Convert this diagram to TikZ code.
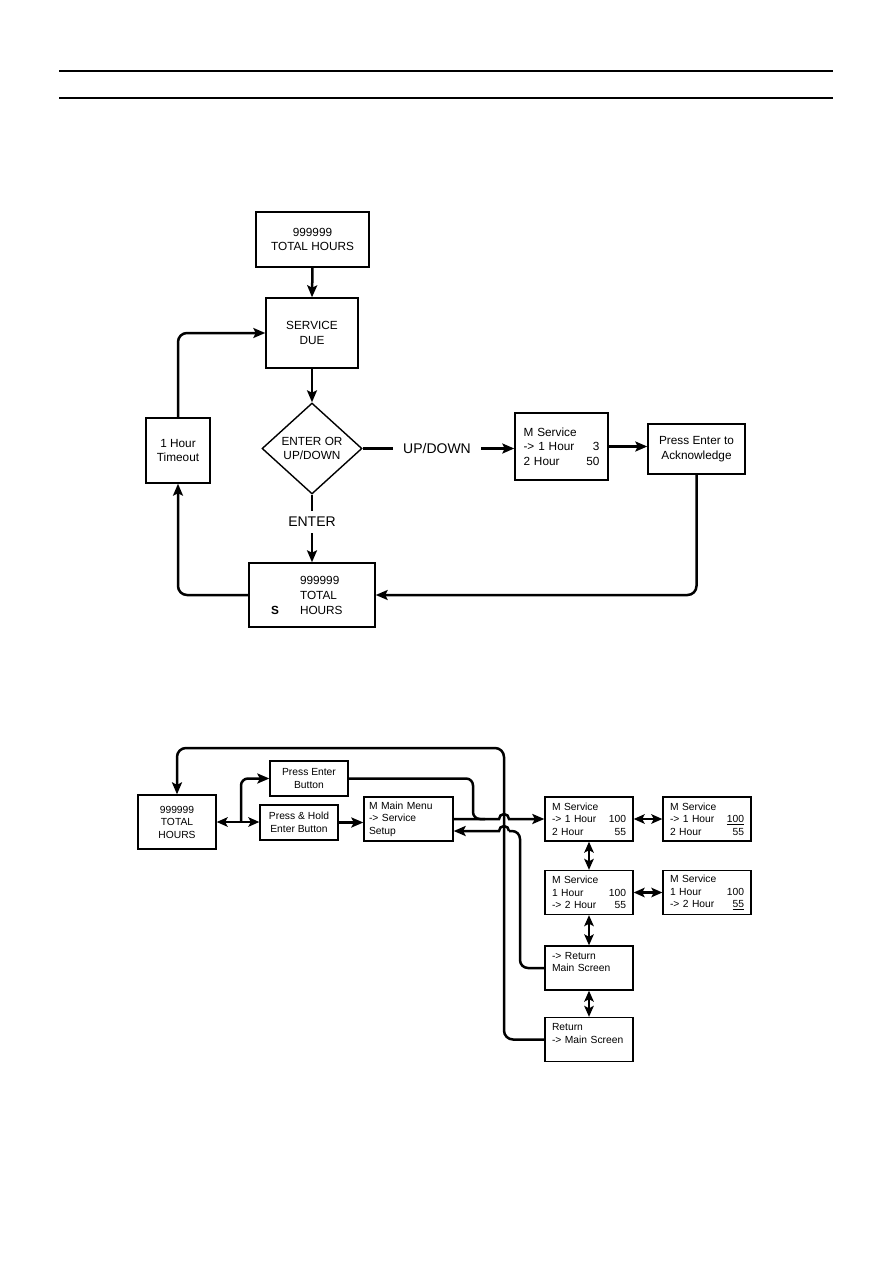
\documentclass[tikz,border=0pt]{standalone}
\usepackage{fontspec}
\setmainfont{Liberation Sans}
\usetikzlibrary{arrows.meta, shapes.geometric, positioning}

% one display row: text left, value right
\newcommand\lcdrow[3][74pt]{\makebox[#1]{#2\hfill#3}}

\begin{document}
\begin{tikzpicture}[x=1pt, y=-1pt,
	box/.style={draw, line width=1.4pt, inner sep=4pt, align=center,
		font=\fontsize{11.8}{14.5}\selectfont},
	sbox/.style={draw, line width=1.3pt, inner sep=4pt, align=center,
		font=\fontsize{10.3}{12.5}\selectfont},
	lcd/.style={sbox, align=left, text width=74pt, minimum width=88pt, minimum height=44pt},
	lbl/.style={font=\fontsize{14}{16}\selectfont, inner xsep=10pt, inner ysep=6pt},
	wire/.style={line width=2.5pt},
	flow/.style={wire, -{Stealth[length=12pt, width=10pt, inset=2.5pt]}},
	twoway/.style={wire, {Stealth[length=11pt, width=9.5pt, inset=2.5pt]}-{Stealth[length=11pt, width=9.5pt, inset=2.5pt]}}]

	\fill[white] (0,0) rectangle (893,1263);
	\useasboundingbox (0,0) rectangle (893,1263);

	% header rules
	\draw[line width=1.3pt] (59,71) -- (833,71);
	\draw[line width=1.3pt] (59,98) -- (833,98);

	% Chart 1: service due
	\node[box, minimum width=113pt, minimum height=55pt] (A) at (312.5,239.5) {999999\\TOTAL HOURS};
	\node[box, minimum width=92pt, minimum height=70pt] (B) at (312,333) {SERVICE\\DUE};
	\node[box, draw, diamond, inner sep=0pt, minimum width=100pt, minimum height=91pt] (C) at (312,448.5) {ENTER OR\\UP/DOWN};
	\node[box, minimum width=64pt, minimum height=65pt] (E) at (178,450.5) {1 Hour\\Timeout};
	\node[box, align=left, text width=76pt, minimum width=93pt, minimum height=67pt] (F) at (561.5,446.5)
		{M Service\\\lcdrow[76pt]{-> 1 Hour}{3}\\\lcdrow[76pt]{2 Hour}{50}};
	\node[box, minimum width=97pt, minimum height=50pt] (G) at (696.5,449) {Press Enter to\\Acknowledge};
	\node[box, align=left, text width=90pt, minimum width=126pt, minimum height=64pt, font=\fontsize{11.8}{15}\selectfont] (D) at (312,595)
		{\hspace*{33pt}999999\\\hspace*{33pt}TOTAL\\\makebox[33pt][l]{\hspace{4pt}\textbf{S}}HOURS};
	\node[lbl] (upd) at (437,448.5) {UP/DOWN};
	\node[lbl] (ent) at (312,522) {ENTER};

	\draw[flow] (A.south) -- (B.north);
	\draw[flow] (B.south) -- (C.north);
	\draw[wire] (C.south) -- (ent.north);
	\draw[flow] (ent.south) -- (D.north);
	\draw[wire] (C.east) -- (C.east -| upd.west);
	\draw[flow] (C.east -| upd.east) -- (C.east -| F.west);
	\draw[flow] (F.east) -- (F.east -| G.west);
	\draw[flow, rounded corners=9pt] (G.south) |- (D.east);
	\draw[flow, rounded corners=9pt] (D.west) -| (E.south);
	\draw[flow, rounded corners=9pt] (E.north) |- (B.west);

	% Chart 2: service setup
	\node[sbox, minimum width=78pt, minimum height=54pt] (H) at (177,822) {999999\\TOTAL\\HOURS};
	\node[sbox, minimum width=78pt, minimum height=35pt] (I) at (309,778.5) {Press Enter\\Button};
	\node[sbox, minimum width=78pt, minimum height=35pt] (J) at (299,822.5) {Press \& Hold\\Enter Button};
	\node[lcd, text width=79pt, minimum width=89pt] (K) at (408.5,819) {M Main Menu\\-> Service\\Setup};
	\node[lcd] (L1) at (589,819) {M Service\\\lcdrow{-> 1 Hour}{100}\\\lcdrow{2 Hour}{55}};
	\node[lcd] (L2) at (589,892.5) {M Service\\\lcdrow{1 Hour}{100}\\\lcdrow{-> 2 Hour}{55}};
	\node[lcd] (L3) at (589,968) {-> Return\\Main Screen\\\mbox{}};
	\node[lcd] (L4) at (589,1039.5) {Return\\-> Main Screen\\\mbox{}};
	\node[lcd] (R1) at (707,819) {M Service\\\lcdrow{-> 1 Hour}{\underline{100}}\\\lcdrow{2 Hour}{55}};
	\node[lcd] (R2) at (707,892.5) {M Service\\\lcdrow{1 Hour}{100}\\\lcdrow{-> 2 Hour}{\underline{55}}};
	\coordinate (fork) at (241,822);

	\draw[twoway] (H.east) -- (H.east -| J.west);
	\draw[flow, rounded corners=7pt] (fork) |- (I.west);
	\draw[flow] (J.east) -- (J.east -| K.west);
	\draw[flow] (K.east) -- (499,819) arc[start angle=180, end angle=0, radius=5pt] -- (L1.west);
	\draw[wire, rounded corners=7pt] (I.east) -| (473,819) -- (485,819);
	\draw[wire, rounded corners=8pt] (L3.west) -| (520,831) -- (509,831);
	\draw[flow] (509,831) arc[start angle=0, end angle=180, radius=5pt] -- ([yshift=-12pt]K.east);
	\draw[flow, rounded corners=9pt] (L4.west) -| (504,748) -| (H.north);
	\draw[twoway] (L1.east) -- (R1.west);
	\draw[twoway] (L2.east) -- (R2.west);
	\draw[twoway] (L1.south) -- (L2.north);
	\draw[twoway] (L2.south) -- (L3.north);
	\draw[twoway] (L3.south) -- (L4.north);
\end{tikzpicture}
\end{document}
